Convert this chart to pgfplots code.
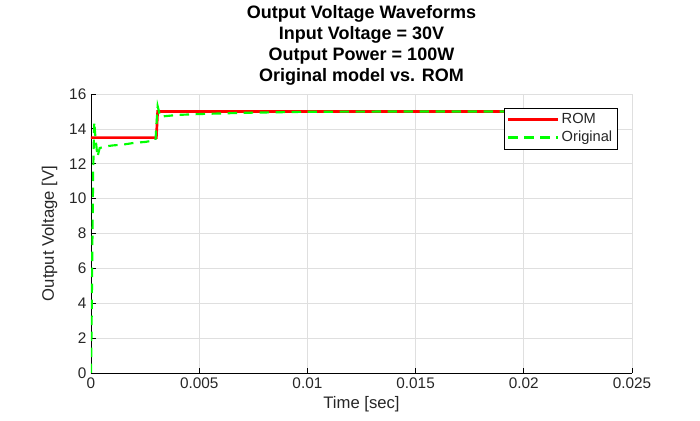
\documentclass[border=0pt]{standalone}
\usepackage{pgfplots}
\pgfplotsset{compat=1.18}
\usepackage{fontspec}
\setmainfont{Liberation Sans}
\definecolor{matgray}{RGB}{38,38,38}
\definecolor{gridgray}{RGB}{223,223,223}

\begin{document}
\begin{tikzpicture}
\useasboundingbox (-68.25pt,-36pt) rectangle (456.75pt,279.75pt);
\begin{axis}[
	at={(0,0)}, anchor=south west,
	scale only axis,
	width=405.75pt, height=209.25pt,
	xmin=0, xmax=0.025, ymin=0, ymax=16,
	xtick={0,0.005,0.01,0.015,0.02,0.025},
	xticklabels={0,0.005,0.01,0.015,0.02,0.025},
	ytick={0,2,...,16},
	grid=major,
	major grid style={gridgray, line width=0.5pt},
	axis x line*=bottom,
	axis y line*=left,
	axis line style={black, line width=0.6pt, -},
	tick style={black, line width=0.6pt},
	tick align=inside,
	major tick length=3.5pt,
	tick label style={font=\fontsize{11.5}{13}\selectfont, text=matgray},
	/pgf/number format/assume math mode=true,
	scaled x ticks=false,
	xlabel={Time [sec]},
	ylabel={Output Voltage [V]},
	label style={font=\fontsize{12.5}{14}\selectfont, text=matgray},
	xlabel style={yshift=1pt},
	ylabel style={yshift=2pt},
	title={\textbf{Output Voltage Waveforms}\\\textbf{Input Voltage = 30V}\\\textbf{Output Power = 100W}\\\textbf{Original model vs. ROM}},
	title style={align=center, font=\fontsize{13.5}{15.8}\selectfont, text=black, yshift=-3pt},
	legend style={at={(0.974,0.95)}, anchor=north east, draw=black, line width=0.5pt,
		font=\fontsize{11}{13}\selectfont, text=matgray, inner sep=2pt, row sep=0pt},
	legend cell align=left,
	legend image code/.code={\draw[#1] (0cm,0cm) -- (1.3cm,0cm);},
]
\addplot[red, line width=2pt] coordinates {
(0,13.5) (0.00302,13.5) (0.00308,15) (0.02,15)
};
\addlegendentry{ROM}
\addplot[green, line width=1.6pt, dash pattern=on 7pt off 5pt] coordinates {
(0,0) (0.00003,3) (0.00006,7) (0.0001,11.5) (0.00015,14.4) (0.0002,13.6)
(0.0003,12.4) (0.0004,12.9) (0.0007,13.0) (0.001,13.05) (0.0015,13.1)
(0.002,13.2) (0.0025,13.25) (0.00298,13.35) (0.00308,15.3) (0.0032,14.7)
(0.004,14.8) (0.005,14.85) (0.007,14.92) (0.01,14.98) (0.015,15) (0.02,15)
};
\addlegendentry{Original}
\end{axis}
\end{tikzpicture}
\end{document}
